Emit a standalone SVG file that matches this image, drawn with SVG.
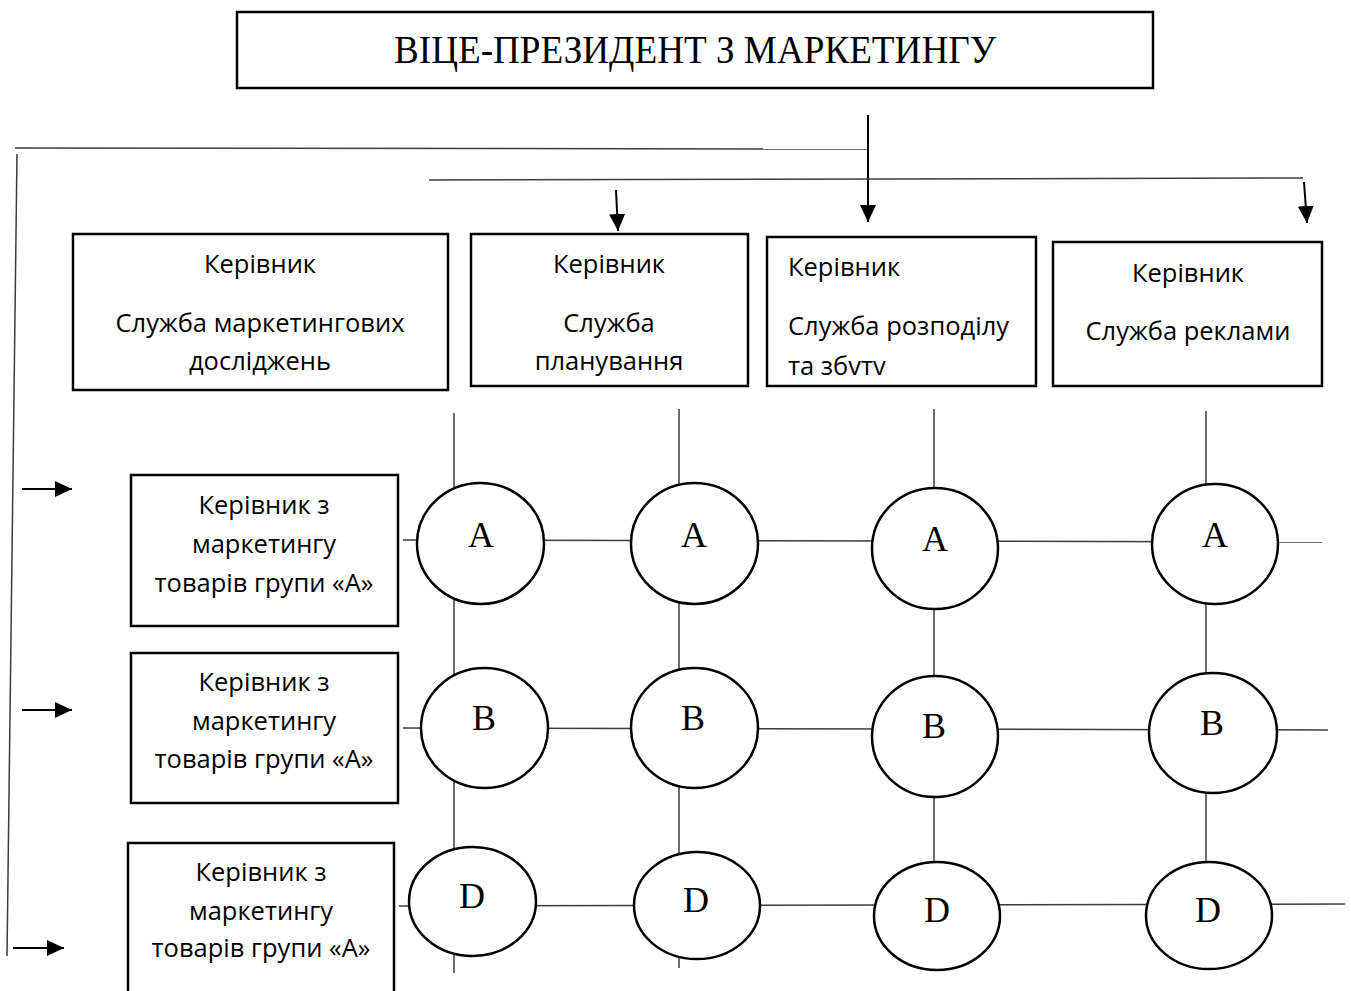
<svg xmlns="http://www.w3.org/2000/svg" width="1351" height="991" viewBox="0 0 1351 991">
<style>
.box{fill:#fff;stroke:#000;stroke-width:2.5}
.circ{fill:#fff;stroke:#000;stroke-width:2.5}
.thin{stroke:#3c3c3c;stroke-width:1.5;fill:none}
.arr{stroke:#000;stroke-width:2;fill:none}
.sans{font-family:"Open Sans","Noto Sans","DejaVu Sans",sans-serif;font-size:25.5px;fill:#000}
.serif{font-family:"Liberation Serif","Times New Roman",serif;fill:#000}
.big{font-size:36px}
</style>
<defs>
<marker id="ah" markerWidth="17" markerHeight="16" refX="17" refY="8" orient="auto" markerUnits="userSpaceOnUse"><path d="M0,0 L17,8 L0,16 z" fill="#000"/></marker>
</defs>
<rect width="1351" height="991" fill="#fff"/>
<g id="connectors">
<line class="arr" x1="868" y1="115" x2="868" y2="222" marker-end="url(#ah)"/>
<line class="thin" x1="15" y1="148" x2="868" y2="149"/>
<line class="thin" x1="17" y1="154" x2="7" y2="956"/>
<line class="thin" x1="429" y1="180" x2="1303" y2="178"/>
<line class="arr" x1="616" y1="190" x2="618" y2="231" marker-end="url(#ah)"/>
<line class="arr" x1="1304" y1="182" x2="1307" y2="223" marker-end="url(#ah)"/>
<line class="arr" x1="22" y1="489" x2="72" y2="489" marker-end="url(#ah)"/>
<line class="arr" x1="22" y1="710" x2="72" y2="710" marker-end="url(#ah)"/>
<line class="arr" x1="13" y1="948" x2="64" y2="948" marker-end="url(#ah)"/>
<line class="thin" x1="454" y1="413" x2="454" y2="973"/>
<line class="thin" x1="679" y1="409" x2="679" y2="968"/>
<line class="thin" x1="934" y1="409" x2="934" y2="862"/>
<line class="thin" x1="1206" y1="411" x2="1206" y2="862"/>
<line class="thin" x1="403" y1="540" x2="1322" y2="542"/>
<line class="thin" x1="403" y1="728" x2="1328" y2="730"/>
<line class="thin" x1="399" y1="906" x2="1345" y2="904"/>
</g>
<g id="vp">
<rect class="box" x="237" y="12" width="916" height="76"/>
<text class="serif" x="695" y="63" font-size="41" text-anchor="middle" textLength="602" lengthAdjust="spacingAndGlyphs">ВІЦЕ-ПРЕЗИДЕНТ З МАРКЕТИНГУ</text>
</g>
<g id="research">
<rect class="box" x="73" y="234" width="375" height="156"/>
<text class="sans" text-anchor="middle"><tspan x="260" y="273">Керівник</tspan><tspan x="260" y="332">Служба маркетингових</tspan><tspan x="260" y="370">досліджень</tspan></text>
</g>
<g id="planning">
<rect class="box" x="471" y="234" width="277" height="152"/>
<text class="sans" text-anchor="middle"><tspan x="609" y="273">Керівник</tspan><tspan x="609" y="332">Служба</tspan><tspan x="609" y="370">планування</tspan></text>
</g>
<g id="distribution">
<rect class="box" x="767" y="237" width="269" height="149"/>
<text class="sans"><tspan x="788" y="276">Керівник</tspan><tspan x="788" y="335">Служба розподілу</tspan><tspan x="788" y="375">та збvтv</tspan></text>
</g>
<g id="advertising">
<rect class="box" x="1053" y="242" width="269" height="144"/>
<text class="sans" text-anchor="middle"><tspan x="1188" y="282">Керівник</tspan><tspan x="1188" y="340">Служба реклами</tspan></text>
</g>
<g id="groupA1">
<rect class="box" x="131" y="475" width="267" height="151"/>
<text class="sans" text-anchor="middle"><tspan x="264" y="514">Керівник з</tspan><tspan x="264" y="553">маркетингу</tspan><tspan x="264" y="592">товарів групи «А»</tspan></text>
</g>
<g id="groupA2">
<rect class="box" x="131" y="653" width="267" height="150"/>
<text class="sans" text-anchor="middle"><tspan x="264" y="691">Керівник з</tspan><tspan x="264" y="730">маркетингу</tspan><tspan x="264" y="768">товарів групи «А»</tspan></text>
</g>
<g id="groupA3">
<rect class="box" x="128" y="843" width="266" height="160"/>
<text class="sans" text-anchor="middle"><tspan x="261" y="881">Керівник з</tspan><tspan x="261" y="920">маркетингу</tspan><tspan x="261" y="957">товарів групи «А»</tspan></text>
</g>
<g id="cA1"><ellipse class="circ" cx="480.5" cy="543.5" rx="63.5" ry="60.5"/><text class="serif big" x="481" y="547" text-anchor="middle">A</text></g>
<g id="cA2"><ellipse class="circ" cx="694.5" cy="543.5" rx="63.5" ry="60.5"/><text class="serif big" x="694" y="547" text-anchor="middle">A</text></g>
<g id="cA3"><ellipse class="circ" cx="935" cy="548.5" rx="63" ry="60.5"/><text class="serif big" x="935" y="551" text-anchor="middle">A</text></g>
<g id="cA4"><ellipse class="circ" cx="1215" cy="544" rx="63" ry="60"/><text class="serif big" x="1215" y="547" text-anchor="middle">A</text></g>
<g id="cB1"><ellipse class="circ" cx="484.5" cy="728" rx="63.5" ry="60"/><text class="serif big" x="484" y="730" text-anchor="middle">B</text></g>
<g id="cB2"><ellipse class="circ" cx="694.5" cy="728" rx="63.5" ry="60"/><text class="serif big" x="693" y="730" text-anchor="middle">B</text></g>
<g id="cB3"><ellipse class="circ" cx="935" cy="736.5" rx="63" ry="60.5"/><text class="serif big" x="934" y="738" text-anchor="middle">B</text></g>
<g id="cB4"><ellipse class="circ" cx="1213" cy="733" rx="64" ry="60"/><text class="serif big" x="1212" y="735" text-anchor="middle">B</text></g>
<g id="cD1"><ellipse class="circ" cx="472.5" cy="901.5" rx="63.5" ry="54.5"/><text class="serif big" x="472" y="908" text-anchor="middle">D</text></g>
<g id="cD2"><ellipse class="circ" cx="697" cy="905.5" rx="63" ry="53.5"/><text class="serif big" x="696" y="912" text-anchor="middle">D</text></g>
<g id="cD3"><ellipse class="circ" cx="937" cy="916" rx="63" ry="54"/><text class="serif big" x="937" y="922" text-anchor="middle">D</text></g>
<g id="cD4"><ellipse class="circ" cx="1209" cy="915.5" rx="63" ry="53.5"/><text class="serif big" x="1208" y="922" text-anchor="middle">D</text></g>
</svg>
